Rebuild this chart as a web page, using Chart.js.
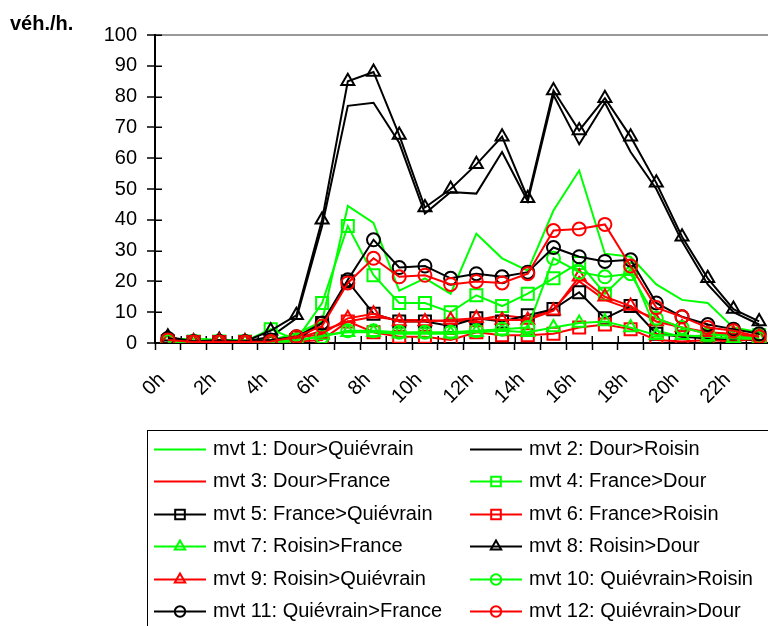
<!DOCTYPE html>
<html>
<head>
<meta charset="utf-8">
<script src="https://cdn.jsdelivr.net/npm/chart.js@4.4.1/dist/chart.umd.min.js"></script>
<style>
  html, body { margin: 0; padding: 0; background: #fff; overflow: hidden; }
  #wrap { width: 768px; height: 626px; overflow: hidden; position: relative; }
  canvas { display: block; }
</style>
</head>
<body>
<div id="wrap"><canvas id="c" width="790" height="626"></canvas></div>
<script>
// Hourly traffic counts (vehicles per hour) by movement
const hours = ['0h','1h','2h','3h','4h','5h','6h','7h','8h','9h','10h','11h',
               '12h','13h','14h','15h','16h','17h','18h','19h','20h','21h','22h','23h'];
const yTicks = [0, 10, 20, 30, 40, 50, 60, 70, 80, 90, 100];

const mvt1  = [1, 1.5, 1, 1, 1, 3, 7, 44.5, 39, 17, 21, 16, 35.5, 27.5, 23.5, 43, 56, 29, 28, 19, 14, 13, 5, 3.5];
const mvt2  = [1, 0.5, 0.5, 0.5, 2, 8, 38, 77, 78, 65, 42, 49, 48.5, 62, 46, 80.5, 64.5, 78, 62, 50, 33, 19, 10, 6];
const mvt3  = [0.5, 0.3, 0.3, 0.3, 0.5, 1.5, 4, 7, 8.5, 7.5, 7.5, 7, 7.5, 9, 8, 11, 20, 14, 11, 8, 5, 3, 2.5, 1.5];
const mvt4  = [0.5, 0.5, 0.5, 0.5, 4.5, 1, 13, 38, 22, 13, 13, 10, 15.5, 12, 16, 21, 26, 16, 24, 4, 2, 2.5, 2.5, 2.5];
const mvt5  = [0.5, 0.3, 0.3, 0.3, 0.5, 1, 6.5, 20, 9.5, 7, 7, 5.5, 8, 7, 9, 11, 16.5, 8, 12, 3, 2, 1.5, 1, 1];
const mvt6  = [0.5, 0.3, 0.3, 0.3, 0.3, 0.5, 1, 7, 3.5, 2, 2, 1, 3.5, 2.5, 2.5, 3, 5, 6, 4.5, 1, 0.5, 1, 0.5, 1.5];
const mvt7  = [0.5, 0.3, 0.3, 0.3, 0.3, 0.5, 2.5, 3.5, 3.5, 3, 3, 3, 3.5, 4, 3.5, 5, 6.5, 7, 5, 2.5, 2.5, 2, 1.5, 1.3];
const mvt8  = [2, 0.5, 1, 0.5, 4, 9, 40, 85, 88, 67.5, 44, 50, 58, 67, 47, 82, 69, 79.5, 67, 52, 34.5, 21, 11, 7];
const mvt9  = [1, 0.3, 0.5, 0.3, 0.5, 1.5, 3, 8, 9.5, 7, 7, 7.5, 8, 7.5, 7.5, 10.5, 21.5, 15, 12, 7, 5, 3.5, 3, 2];
const mvt10 = [0.5, 0.3, 0.3, 0.3, 0.5, 1, 2, 4, 4, 3.5, 3.5, 3.5, 4, 4.5, 5, 27.5, 23, 21.5, 22.5, 8, 5, 3, 2, 1.5];
const mvt11 = [1.5, 0.5, 0.5, 0.5, 1, 2, 6.5, 20.5, 33.5, 24.5, 25, 21, 22.5, 21.5, 23, 31, 28, 26.5, 27, 13, 8.5, 6, 4.5, 3];
const mvt12 = [1, 0.3, 0.3, 0.3, 0.5, 2, 5.5, 19.5, 27.5, 21.5, 22, 19, 20, 19.5, 22.5, 36.5, 37, 38.5, 25, 11.5, 8.5, 5, 4, 2];

const seriesNames = [
  'mvt 1: Dour>Quiévrain', 'mvt 2: Dour>Roisin',
  'mvt 3: Dour>France', 'mvt 4: France>Dour',
  'mvt 5: France>Quiévrain', 'mvt 6: France>Roisin',
  'mvt 7: Roisin>France', 'mvt 8: Roisin>Dour',
  'mvt 9: Roisin>Quiévrain', 'mvt 10: Quiévrain>Roisin',
  'mvt 11: Quiévrain>France', 'mvt 12: Quiévrain>Dour'
];
const seriesData = [mvt1, mvt2, mvt3, mvt4, mvt5, mvt6, mvt7, mvt8, mvt9, mvt10, mvt11, mvt12];

const GREEN = '#00ff00', BLACK = '#000000', RED = '#ff0000';
const colours = [GREEN, BLACK, RED, GREEN, BLACK, RED, GREEN, BLACK, RED, GREEN, BLACK, RED];
const markers = [false, false, false, 'rect', 'rect', 'rect', 'triangle', 'triangle', 'triangle', 'circle', 'circle', 'circle'];
const markerRadius = { rect: 8.5, triangle: 7.5, circle: 6.5 };

const FONT = '"Liberation Sans", Arial, sans-serif';

const datasets = seriesData.map((d, i) => ({
  label: seriesNames[i],
  data: d,
  borderColor: colours[i],
  borderWidth: 2,
  tension: 0,
  fill: false,
  pointStyle: markers[i] || 'circle',
  pointRadius: markers[i] ? markerRadius[markers[i]] : 0,
  pointHoverRadius: markers[i] ? markerRadius[markers[i]] : 0,
  pointBorderColor: colours[i],
  pointBackgroundColor: 'rgba(0,0,0,0)',
  pointBorderWidth: 2,
  order: seriesData.length - i
}));

// Axis tick marks that cross the axis line, unit label and boxed two-column legend
const decorations = {
  id: 'decorations',
  beforeDatasetsDraw(chart) {
    const { ctx, chartArea: ca, scales } = chart;
    ctx.save();
    ctx.strokeStyle = '#000';
    ctx.lineWidth = 1.5;
    ctx.beginPath();
    scales.y.ticks.forEach(t => {
      const py = Math.round(scales.y.getPixelForValue(t.value)) + 0.25;
      ctx.moveTo(ca.left, py);
      ctx.lineTo(ca.left + 7, py);
    });
    const n = hours.length;
    for (let i = 0; i <= n; i++) {
      const px = Math.round(ca.left + i * (ca.right - ca.left) / n) + 0.25;
      ctx.moveTo(px, ca.bottom);
      ctx.lineTo(px, ca.bottom - 7);
    }
    ctx.stroke();
    ctx.restore();
  },
  afterDraw(chart) {
    const ctx = chart.ctx;
    ctx.save();
    // unit label
    ctx.fillStyle = '#000';
    ctx.font = 'bold 20px ' + FONT;
    ctx.textAlign = 'left';
    ctx.textBaseline = 'alphabetic';
    ctx.fillText('véh./h.', 10, 30);

    // legend frame
    ctx.strokeStyle = '#000';
    ctx.lineWidth = 1;
    ctx.strokeRect(147.5, 430.5, 700, 300);

    const colX = [154, 470];
    const rowY0 = 449, rowStep = 32.4, sample = 52;
    chart.data.datasets.forEach((ds, i) => {
      const x0 = colX[i % 2];
      const y = Math.round(rowY0 + Math.floor(i / 2) * rowStep) + 0.5;
      ctx.strokeStyle = ds.borderColor;
      ctx.lineWidth = 2;
      ctx.beginPath();
      ctx.moveTo(x0, y);
      ctx.lineTo(x0 + sample, y);
      ctx.stroke();
      if (markers[i]) {
        ctx.fillStyle = 'rgba(0,0,0,0)';
        ctx.strokeStyle = ds.borderColor;
        ctx.lineWidth = 2;
        Chart.helpers.drawPoint(ctx, {
          pointStyle: markers[i],
          radius: markerRadius[markers[i]] * 0.8,
          borderWidth: 2,
          rotation: 0
        }, x0 + sample / 2, y);
      }
      ctx.fillStyle = '#000';
      ctx.font = '20px ' + FONT;
      ctx.textAlign = 'left';
      ctx.textBaseline = 'middle';
      ctx.fillText(ds.label, x0 + sample + 7, y);
    });
    ctx.restore();
  }
};

new Chart(document.getElementById('c'), {
  type: 'line',
  data: { labels: hours, datasets },
  options: {
    responsive: false,
    animation: false,
    devicePixelRatio: 1,
    layout: { padding: { left: 0, top: 35, right: 18, bottom: 196 } },
    plugins: { legend: { display: false }, tooltip: { enabled: false } },
    elements: { line: { borderJoinStyle: 'miter' } },
    scales: {
      x: {
        type: 'category',
        offset: true,
        afterFit(scale) { scale.height = 87; scale.paddingLeft = 0; scale.paddingRight = 0; },
        border: { display: true, color: '#000', width: 2 },
        grid: { drawOnChartArea: false, offset: true, tickLength: 7, tickColor: '#000', tickWidth: 1.5 },
        ticks: {
          autoSkip: false,
          maxRotation: 45,
          minRotation: 45,
          padding: 18,
          labelOffset: -6,
          color: '#000',
          font: { family: FONT, size: 20 },
          callback: (v, i) => (i % 2 === 0 ? hours[i] : '')
        }
      },
      y: {
        min: 0,
        max: 100,
        afterFit(scale) { scale.width = 155; },
        afterBuildTicks(scale) { scale.ticks = yTicks.map(v => ({ value: v })); },
        border: { display: true, color: '#000', width: 2 },
        grid: {
          drawOnChartArea: true,
          color: ctx => (ctx.tick && ctx.tick.value === 100 ? '#999999' : 'rgba(0,0,0,0)'),
          lineWidth: 2,
          tickLength: 8,
          tickColor: '#000',
          tickWidth: 1.5
        },
        ticks: {
          padding: 10,
          color: '#000',
          font: { family: FONT, size: 20 }
        }
      }
    }
  },
  plugins: [decorations]
});
</script>
</body>
</html>
